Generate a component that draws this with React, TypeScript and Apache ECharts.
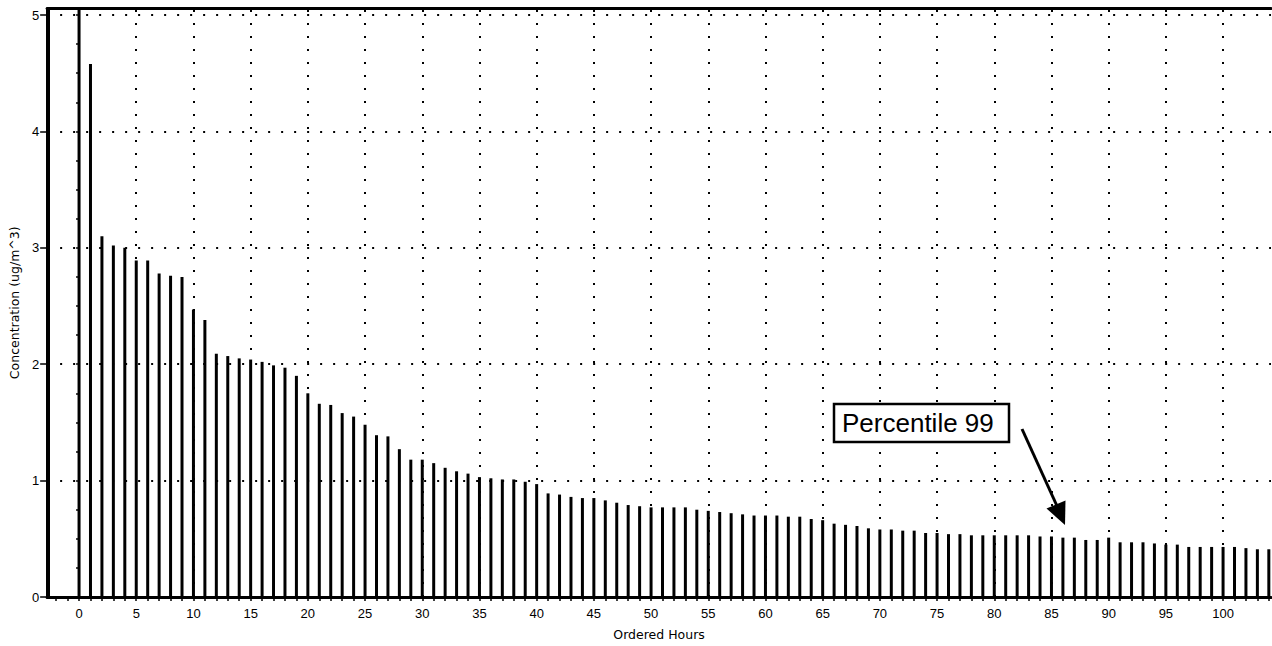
import React, { useEffect, useRef } from 'react';
import * as echarts from 'echarts';

// Ordered hourly concentrations (ug/m^3), hour index 0..104
const concentration = [
  6.0, 4.58, 3.1, 3.02, 3.0, 2.89, 2.89, 2.78, 2.76, 2.75,
  2.47, 2.38, 2.09, 2.07, 2.05, 2.04, 2.02, 1.99, 1.97, 1.9,
  1.75, 1.66, 1.65, 1.58, 1.55, 1.48, 1.39, 1.38, 1.27, 1.18,
  1.18, 1.15, 1.11, 1.08, 1.06, 1.03, 1.02, 1.01, 1.01, 0.99,
  0.97, 0.89, 0.88, 0.86, 0.85, 0.85, 0.83, 0.81, 0.79, 0.78,
  0.77, 0.77, 0.77, 0.77, 0.75, 0.74, 0.73, 0.72, 0.71, 0.7,
  0.7, 0.7, 0.69, 0.69, 0.67, 0.66, 0.63, 0.62, 0.61, 0.59,
  0.58, 0.58, 0.57, 0.57, 0.55, 0.55, 0.54, 0.54, 0.53, 0.53,
  0.53, 0.53, 0.53, 0.53, 0.52, 0.52, 0.51, 0.51, 0.49, 0.49,
  0.51, 0.47, 0.47, 0.47, 0.46, 0.45, 0.45, 0.43, 0.43, 0.43,
  0.43, 0.43, 0.42, 0.41, 0.41,
];
const hours = concentration.map((_, i) => i);

const xTickLabels = [0, 5, 10, 15, 20, 25, 30, 35, 40, 45, 50, 55, 60, 65, 70, 75, 80, 85, 90, 95, 100];
const yTickLabels = [0, 1, 2, 3, 4, 5];
const xMinorTicks = [-2, -1, ...hours];
const yMinorTicks = Array.from({ length: 21 }, (_, i) => i * 0.25);

const annotationText = 'Percentile 99';

const X_MIN = -2.79;
const X_MAX = 104.19;
const Y_MAX = 5.056;

const tickFont = { fontFamily: 'Arial, "Liberation Sans", sans-serif', fontSize: 13, color: '#000' };
const nameFont = { fontFamily: '"DejaVu Sans", sans-serif', fontSize: 12.5, color: '#000' };

export default function App() {
  const ref = useRef<HTMLDivElement>(null);
  useEffect(() => {
    if (!ref.current) return;
    const chart = echarts.init(ref.current, null, { renderer: 'svg' });
    const dotted = { color: '#000', type: [2, 11], width: 2, opacity: 1 };
    chart.setOption({
      animation: false,
      backgroundColor: '#fff',
      grid: { left: 44, right: 1, top: 8.5, bottom: 48, containLabel: false },
      xAxis: [
        {
          type: 'value', min: X_MIN, max: X_MAX, position: 'bottom',
          name: 'Ordered Hours', nameLocation: 'middle', nameGap: 31, nameTextStyle: nameFont,
          axisLine: { show: true, onZero: false, lineStyle: { color: '#000', width: 3 } },
          axisTick: { show: true, customValues: xMinorTicks, length: 4, lineStyle: { color: '#000', width: 1.5 } },
          axisLabel: { show: true, customValues: xTickLabels, margin: 10, ...tickFont },
          splitLine: { show: false },
        },
        {
          type: 'value', min: X_MIN, max: X_MAX, position: 'top',
          axisLine: { show: true, onZero: false, lineStyle: { color: '#000', width: 3 } },
          axisTick: { show: false }, axisLabel: { show: false }, splitLine: { show: false },
        },
      ],
      yAxis: [
        {
          type: 'value', min: 0, max: Y_MAX, position: 'left',
          name: 'Concentration (ug/m^3)', nameLocation: 'middle', nameGap: 21, nameTextStyle: nameFont,
          axisLine: { show: true, onZero: false, lineStyle: { color: '#000', width: 3 } },
          axisTick: { show: true, customValues: yTickLabels, length: 7, lineStyle: { color: '#000', width: 1.5 } },
          axisLabel: { show: true, customValues: yTickLabels, margin: 8, ...tickFont },
          splitLine: { show: false },
        },
        {
          type: 'value', min: 0, max: Y_MAX, position: 'left',
          axisLine: { show: false },
          axisTick: { show: true, customValues: yMinorTicks, length: 3, lineStyle: { color: '#000', width: 1.5 } },
          axisLabel: { show: false }, splitLine: { show: false },
        },
      ],
      series: [
        {
          type: 'bar',
          xAxisIndex: 0,
          yAxisIndex: 0,
          data: hours.map((h, i) => [h, concentration[i]]),
          barWidth: 3,
          clip: true,
          itemStyle: { color: '#000' },
          silent: true,
          markLine: {
            silent: true,
            symbol: ['none', 'none'],
            label: { show: false },
            lineStyle: dotted,
            emphasis: { disabled: true },
            data: [
              ...xTickLabels.map((v) => ({ xAxis: v })),
              ...yTickLabels.filter((v) => v > 0).map((v) => ({ yAxis: v })),
              { xAxis: X_MIN + 0.08, lineStyle: { type: 'solid', width: 3, color: '#000' } },
            ],
          },
        },
      ],
      graphic: [
        {
          type: 'rect', z: 100,
          shape: { x: 834, y: 404, width: 175, height: 38 },
          style: { fill: '#fff', stroke: '#000', lineWidth: 2.5 },
        },
        {
          type: 'text', z: 101, x: 842, y: 423,
          style: {
            text: annotationText, fill: '#000', fontSize: 26,
            fontFamily: 'Arial, "Liberation Sans", sans-serif',
            verticalAlign: 'middle', align: 'left',
          },
        },
        {
          type: 'line', z: 100,
          shape: { x1: 1022, y1: 429, x2: 1057, y2: 506 },
          style: { stroke: '#000', lineWidth: 3 },
        },
        {
          type: 'polygon', z: 100,
          shape: { points: [[1065, 525], [1046.5, 508.5], [1065.5, 500.5]] },
          style: { fill: '#000' },
        },
      ],
    });
    return () => chart.dispose();
  }, []);
  return (
    <div
      ref={ref}
      style={{ position: 'fixed', left: 0, top: 0, width: 1272, height: 646, background: '#fff' }}
    />
  );
}
